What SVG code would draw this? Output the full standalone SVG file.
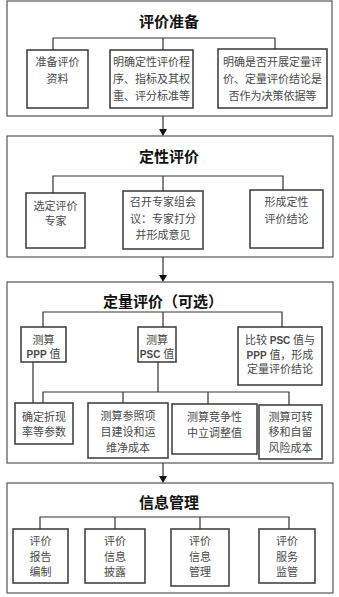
<svg xmlns="http://www.w3.org/2000/svg" width="339" height="597" viewBox="0 0 339 597">
<style>
.frame{fill:#fff;stroke:#555;stroke-width:1.2}
.box{fill:#fff;stroke:#444;stroke-width:1.6}
.ln{fill:none;stroke:#333;stroke-width:1.2}
.ah{fill:#111}
.t{font-family:"Noto Sans CJK SC",sans-serif;font-weight:bold;font-size:15px;fill:#111;text-anchor:middle}
.b{font-family:"Liberation Serif","Noto Sans CJK SC",serif;font-size:11px;fill:#4a4a4a;text-anchor:middle}
.s{font-family:"Liberation Sans",sans-serif;font-weight:bold}
</style>
<rect width="339" height="597" fill="#fff"/>

<g id="sec1">
<rect class="frame" x="7" y="1" width="325" height="115"/>
<text class="t" x="169" y="27">评价准备</text>
</g>
<g id="n1a"><rect class="box" x="27" y="50" width="61" height="58"/>
<text class="b" x="57.5" y="66">准备评价</text><text class="b" x="57.5" y="83">资料</text></g>
<g id="n1b"><rect class="box" x="110" y="50" width="83" height="58"/>
<text class="b" x="151.5" y="66">明确定性评价程</text><text class="b" x="151.5" y="83">序、指标及其权</text><text class="b" x="151.5" y="100">重、评分标准等</text></g>
<g id="n1c"><rect class="box" x="218" y="49" width="109" height="59"/>
<text class="b" x="272.5" y="66" font-size="10.5">明确是否开展定量评</text><text class="b" x="272.5" y="83" font-size="10.5">价、定量评价结论是</text><text class="b" x="272.5" y="100" font-size="10.5">否作为决策依据等</text></g>

<g id="sec2">
<rect class="frame" x="7" y="136" width="326" height="121"/>
<text class="t" x="169" y="162">定性评价</text>
</g>
<g id="n2a"><rect class="box" x="26" y="193" width="59" height="55"/>
<text class="b" x="55.5" y="210">选定评价</text><text class="b" x="55.5" y="225">专家</text></g>
<g id="n2b"><rect class="box" x="123" y="191" width="80" height="58"/>
<text class="b" x="163" y="206">召开专家组会</text><text class="b" x="163" y="223">议：专家打分</text><text class="b" x="163" y="239">并形成意见</text></g>
<g id="n2c"><rect class="box" x="250" y="190" width="73" height="58"/>
<text class="b" x="286.5" y="206">形成定性</text><text class="b" x="286.5" y="223">评价结论</text></g>

<g id="sec3">
<rect class="frame" x="7" y="282" width="326" height="181"/>
<text class="t" x="163" y="307">定量评价（可选）</text>
</g>
<g id="n3a"><rect class="box" x="21" y="327" width="45" height="35"/>
<text class="b" x="43.5" y="344">测算</text><text class="b" x="43.5" y="358"><tspan class="s" font-size="10">PPP</tspan> 值</text></g>
<g id="n3b"><rect class="box" x="138" y="327" width="38" height="35"/>
<text class="b" x="157" y="344">测算</text><text class="b" x="157" y="358"><tspan class="s" font-size="10">PSC</tspan> 值</text></g>
<g id="n3c"><rect class="box" x="238" y="327" width="84" height="58"/>
<text class="b" x="280" y="344">比较 <tspan class="s" font-size="10">PSC</tspan> 值与</text><text class="b" x="280" y="359"><tspan class="s" font-size="10">PPP</tspan> 值，形成</text><text class="b" x="280" y="373">定量评价结论</text></g>
<g id="n3d"><rect class="box" x="15" y="403" width="58" height="41"/>
<text class="b" x="44" y="421">确定折现</text><text class="b" x="44" y="436">率等参数</text></g>
<g id="n3e"><rect class="box" x="88" y="403" width="80" height="55"/>
<text class="b" x="128" y="420">测算参照项</text><text class="b" x="128" y="436">目建设和运</text><text class="b" x="128" y="452">维净成本</text></g>
<g id="n3f"><rect class="box" x="172" y="404" width="85" height="50"/>
<text class="b" x="214.5" y="421">测算竞争性</text><text class="b" x="214.5" y="437">中立调整值</text></g>
<g id="n3g"><rect class="box" x="259" y="405" width="63" height="54"/>
<text class="b" x="290.5" y="421">测算可转</text><text class="b" x="290.5" y="436">移和自留</text><text class="b" x="290.5" y="452">风险成本</text></g>

<g id="sec4">
<rect class="frame" x="7" y="483" width="326" height="110"/>
<text class="t" x="169" y="508">信息管理</text>
</g>
<g id="n4a"><rect class="box" x="13" y="529" width="55" height="54"/>
<text class="b" x="40.5" y="545">评价</text><text class="b" x="40.5" y="561">报告</text><text class="b" x="40.5" y="576">编制</text></g>
<g id="n4b"><rect class="box" x="85" y="529" width="60" height="54"/>
<text class="b" x="115" y="545">评价</text><text class="b" x="115" y="561">信息</text><text class="b" x="115" y="576">披露</text></g>
<g id="n4c"><rect class="box" x="171" y="529" width="58" height="57"/>
<text class="b" x="200" y="545">评价</text><text class="b" x="200" y="561">信息</text><text class="b" x="200" y="576">管理</text></g>
<g id="n4d"><rect class="box" x="259" y="529" width="56" height="54"/>
<text class="b" x="287" y="545">评价</text><text class="b" x="287" y="561">服务</text><text class="b" x="287" y="576">监管</text></g>

<g id="connectors">
<path class="ln" d="M53,50 V38 H275 V49 M163,38 V50"/>
<path class="ln" d="M53,193 V176 H283 V190 M163,176 V191"/>
<path class="ln" d="M43,327 V312 H282 V327 M163,312 V327"/>
<path class="ln" d="M33,362 V403 M158,362 V392 M43,403 V392 H289 V405 M123,392 V403 M208,392 V404"/>
<path class="ln" d="M40,529 V517 H289 V529 M115,517 V529 M200,517 V529"/>
<path class="ln" d="M163,116 V130"/>
<path class="ah" d="M159,129 L167,129 L163,136 Z"/>
<path class="ln" d="M163,257 V276"/>
<path class="ah" d="M159,275 L167,275 L163,282 Z"/>
<path class="ln" d="M163,463 V477"/>
<path class="ah" d="M159,476 L167,476 L163,483 Z"/>
</g>
</svg>
